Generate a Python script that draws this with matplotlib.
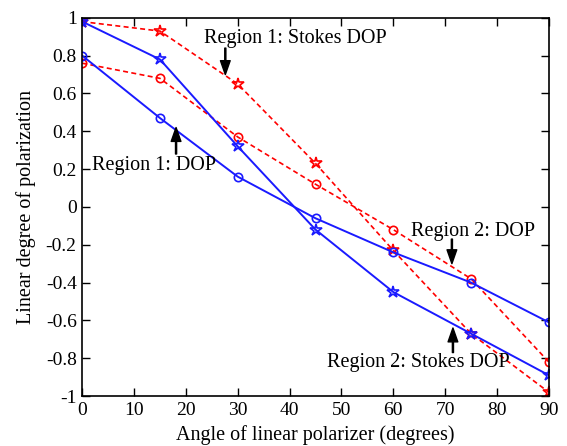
import matplotlib
matplotlib.use("Agg")
import matplotlib.pyplot as plt

plt.rcParams['font.family'] = ['Liberation Serif', 'DejaVu Serif']
plt.rcParams['font.size'] = 14.5

angle = [0, 15, 30, 45, 60, 75, 90]

blue_star = [0.98, 0.78, 0.32, -0.12, -0.45, -0.67, -0.89]
blue_circle = [0.80, 0.47, 0.16, -0.06, -0.24, -0.40, -0.61]
red_star = [0.98, 0.93, 0.65, 0.23, -0.23, -0.67, -0.98]
red_circle = [0.76, 0.68, 0.37, 0.12, -0.12, -0.38, -0.82]

xticks = list(range(0, 91, 10))
yticks = [-1, -0.8, -0.6, -0.4, -0.2, 0, 0.2, 0.4, 0.6, 0.8, 1]
ytick_labels = ['-1', '-0.8', '-0.6', '-0.4', '-0.2', '0', '0.2', '0.4', '0.6', '0.8', '1']

fig = plt.figure(figsize=(5.67, 4.46), dpi=100)
ax = fig.add_axes([0.145, 0.112, 0.823, 0.848])

ax.plot(angle, red_star, 'r--', marker='*', mfc='none', ms=9, lw=1.2, mew=1.2, dashes=(3, 2))
ax.plot(angle, red_circle, 'r--', marker='o', mfc='none', ms=6, lw=1.2, mew=1.2, dashes=(3, 2))
ax.plot(angle, blue_star, '-', color='#1a1aff', marker='*', mfc='none', ms=9, lw=1.4, mew=1.2)
ax.plot(angle, blue_circle, '-', color='#1a1aff', marker='o', mfc='none', ms=6, lw=1.4, mew=1.2)

ax.set_xlim(0, 90)
ax.set_ylim(-1, 1)
ax.set_xticks(xticks)
ax.set_yticks(yticks)
ax.set_yticklabels(ytick_labels)
ax.tick_params(direction='in', top=True, right=True, length=6, width=1, labelsize=14, pad=4)
for s in ax.spines.values():
    s.set_linewidth(1.2)

ax.set_xlabel('Angle of linear polarizer (degrees)', labelpad=5)
ax.set_ylabel('Linear degree of polarization', labelpad=7)

arrow = dict(facecolor='black', edgecolor='black', width=0.8, headwidth=7, headlength=10)
ax.annotate('', xy=(27.6, 0.70), xytext=(27.6, 0.84), arrowprops=arrow)
ax.text(23.5, 0.89, 'Region 1: Stokes DOP', ha='left', va='center')
ax.annotate('', xy=(18.1, 0.42), xytext=(18.1, 0.28), arrowprops=arrow)
ax.text(1.9, 0.22, 'Region 1: DOP', ha='left', va='center')
ax.annotate('', xy=(71.3, -0.30), xytext=(71.3, -0.17), arrowprops=arrow)
ax.text(63.5, -0.13, 'Region 2: DOP', ha='left', va='center')
ax.annotate('', xy=(71.5, -0.64), xytext=(71.5, -0.77), arrowprops=arrow)
ax.text(47.2, -0.82, 'Region 2: Stokes DOP', ha='left', va='center')

fig.savefig('out.png', dpi=100)
